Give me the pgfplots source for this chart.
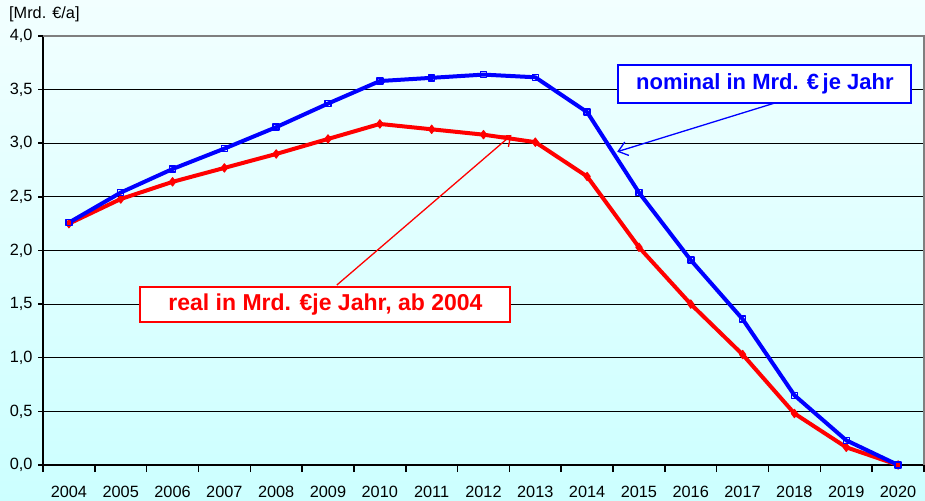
\documentclass[border=0pt]{standalone}
\usepackage{fontspec}
\setmainfont{Liberation Sans}
\usepackage{pgfplots}
\pgfplotsset{compat=1.18}
\usetikzlibrary{arrows.meta}
\definecolor{bgtop}{HTML}{F2FFFF}
\definecolor{bgbot}{HTML}{CCFFFF}
\definecolor{nblue}{HTML}{0000FF}
\definecolor{rred}{HTML}{FF0000}
\definecolor{bordergray}{HTML}{7F7F7F}
\begin{document}
\begin{tikzpicture}[x=1pt,y=1pt]
\shade[top color=bgtop, bottom color=bgbot] (0,0) rectangle (925,500);
\useasboundingbox (0,0) rectangle (925,500);
\begin{axis}[
  at={(43pt,35pt)}, anchor=south west,
  scale only axis, width=881pt, height=429pt,
  xmin=2003.5, xmax=2020.5, ymin=0, ymax=4,
  clip=false,
  axis x line*=bottom, axis y line*=left,
  axis line style={black, line width=2pt, -},
  tick align=outside,
  xtick={2004,...,2020},
  xticklabels={2004,2005,2006,2007,2008,2009,2010,2011,2012,2013,2014,2015,2016,2017,2018,2019,2020},
  major x tick style={draw=none},
  minor xtick={2003.5,2004.5,2005.5,2006.5,2007.5,2008.5,2009.5,2010.5,2011.5,2012.5,2013.5,2014.5,2015.5,2016.5,2017.5,2018.5,2019.5,2020.5},
  minor tick length=7pt,
  minor x tick style={black, line width=1.5pt},
  ytick={0,0.5,...,4},
  major tick length=5pt,
  major y tick style={black, line width=1.5pt},
  ymajorgrids,
  major grid style={black, line width=1.2pt},
  tick label style={font=\fontsize{16.3}{19}\selectfont},
  /pgf/number format/assume math mode=true,
  yticklabel style={xshift=-2pt, /pgf/number format/fixed, /pgf/number format/fixed zerofill, /pgf/number format/precision=1, /pgf/number format/use comma},
  xticklabel style={yshift=-13pt},
]
\addplot[rred, line width=4pt, line join=round, mark=diamond*, mark size=4.2pt, mark options={solid, line width=1pt}] coordinates {
(2004,2.25) (2005,2.48) (2006,2.64) (2007,2.77) (2008,2.90) (2009,3.04) (2010,3.18) (2011,3.13) (2012,3.08) (2013,3.01) (2014,2.69) (2015,2.03) (2016,1.50) (2017,1.03) (2018,0.48) (2019,0.165) (2020,0.0)
};
\addplot[nblue, line width=4pt, line join=round, mark=square, mark size=3pt, mark options={solid, line width=1.5pt}] coordinates {
(2004,2.26) (2005,2.54) (2006,2.76) (2007,2.95) (2008,3.15) (2009,3.37) (2010,3.58) (2011,3.61) (2012,3.64) (2013,3.615) (2014,3.29) (2015,2.54) (2016,1.91) (2017,1.36) (2018,0.65) (2019,0.23) (2020,0.0)
};
\draw[bordergray, line width=2.5pt] (rel axis cs:0,1) -- (rel axis cs:1,1) -- (rel axis cs:1,0);
\draw[nblue, line width=1.3pt, -{Straight Barb[length=9pt, width=14pt]}] (axis cs:2017.64,3.378) -- (axis cs:2014.58,2.921);
\draw[rred, line width=1.3pt, -{Straight Barb[length=9pt, width=14pt]}] (axis cs:2009.17,1.678) -- (axis cs:2012.54,3.077);
\node[draw=nblue, line width=2pt, fill=white, text=nblue, font=\bfseries\fontsize{22}{26}\selectfont, minimum width=293pt, minimum height=38pt, inner sep=0pt] at (axis cs:2017.43,3.557) {nominal in Mrd. €\,je Jahr};
\node[draw=rred, line width=2pt, fill=white, text=rred, font=\bfseries\fontsize{23}{27}\selectfont, minimum width=370pt, minimum height=35pt, inner sep=0pt] at (axis cs:2008.95,1.497) {real in Mrd. €je Jahr, ab 2004};
\end{axis}
\node[anchor=west, inner sep=0pt, font=\fontsize{16.3}{19}\selectfont] at (9,485.5) {[Mrd. €/a]};
\end{tikzpicture}
\end{document}
